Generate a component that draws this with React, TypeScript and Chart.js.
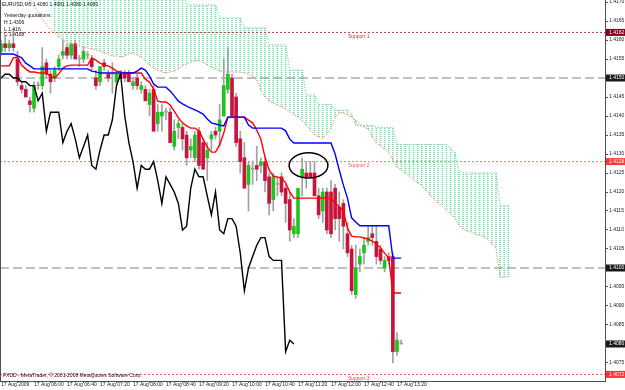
import React, { useEffect, useRef } from "react";
import { Chart, registerables } from "chart.js";
Chart.register(...registerables);

// ---------- text ----------
const symbolName = "EURUSD,M5";
const yesterdayLines = ["Yesterday quotations:", "H 1.4306", "L 1.416", "C 1.4168"];
const copyrightText = "FXDD - MetaTrader, \u00a9 2001-2008 MetaQuotes Software Corp.";

// ---------- axes ----------
const xTickIndex = [0, 8, 16, 24, 32, 40, 48, 56, 64, 72, 80, 88, 96];
const xTickLabels = [
  "17 Aug 2009", "17 Aug 06:00", "17 Aug 06:40", "17 Aug 07:20", "17 Aug 08:00",
  "17 Aug 08:40", "17 Aug 09:20", "17 Aug 10:00", "17 Aug 10:40", "17 Aug 11:20",
  "17 Aug 12:00", "17 Aug 12:40", "17 Aug 13:20",
];
const yTickValues = [
  1.4075, 1.408, 1.4085, 1.409, 1.4095, 1.41, 1.4105, 1.411, 1.4115, 1.412,
  1.4125, 1.413, 1.4135, 1.414, 1.4145, 1.415, 1.4155, 1.416, 1.4165, 1.417,
];

// ---------- candles (M5) ----------
const opens = [
  1.4157, 1.4159, 1.4158, 1.4159, 1.4155, 1.4148, 1.4147, 1.4144, 1.4142, 1.4148,
  1.4148, 1.4154, 1.4151, 1.4150, 1.4153, 1.4156, 1.4158, 1.4156, 1.4159, 1.4155,
  1.4155, 1.4156, 1.4155, 1.4150, 1.4149, 1.4154, 1.4151, 1.4151, 1.4149, 1.4151,
  1.4151, 1.4151, 1.4148, 1.4150, 1.4147, 1.4147, 1.4143, 1.4147, 1.4138, 1.4140,
  1.4141, 1.4141, 1.4132, 1.4137, 1.4137, 1.4135, 1.4131, 1.4129, 1.4136, 1.4133,
  1.4129, 1.4134, 1.4136, 1.4136, 1.4140, 1.4147, 1.4150, 1.4145, 1.4134, 1.4129,
  1.4122, 1.4126, 1.4127, 1.4127, 1.4128, 1.4124, 1.4118, 1.4122, 1.4124, 1.4121,
  1.4118, 1.4109, 1.4109, 1.4124, 1.4125, 1.4125, 1.4125, 1.4119, 1.4115, 1.4120,
  1.4120, 1.4121, 1.4116, 1.4117, 1.4109, 1.4105, 1.4093, 1.4101, 1.4104, 1.4107,
  1.4109, 1.4107, 1.4105, 1.4100, 1.4103, 1.4103, 1.4078, 1.4080,
];
const highs = [
  1.4160, 1.4161, 1.4160, 1.4163, 1.4157, 1.4149, 1.4148, 1.4145, 1.4149, 1.4149,
  1.4158, 1.4155, 1.4152, 1.4153, 1.4156, 1.4160, 1.4159, 1.4159, 1.4160, 1.4156,
  1.4158, 1.4157, 1.4156, 1.4152, 1.4153, 1.4155, 1.4152, 1.4154, 1.4152, 1.4152,
  1.4152, 1.4152, 1.4150, 1.4151, 1.4149, 1.4148, 1.4147, 1.4148, 1.4143, 1.4143,
  1.4142, 1.4142, 1.4139, 1.4139, 1.4138, 1.4136, 1.4134, 1.4136, 1.4137, 1.4134,
  1.4133, 1.4136, 1.4137, 1.4143, 1.4155, 1.4158, 1.4151, 1.4146, 1.4136, 1.4133,
  1.4128, 1.4128, 1.4132, 1.4129, 1.4129, 1.4125, 1.4125, 1.4124, 1.4125, 1.4122,
  1.4120, 1.4113, 1.4121, 1.4129, 1.4128, 1.4128, 1.4128, 1.4121, 1.4121, 1.4121,
  1.4123, 1.4122, 1.4120, 1.4118, 1.4112, 1.4106, 1.4106, 1.4105, 1.4108, 1.4111,
  1.4111, 1.4111, 1.4106, 1.4103, 1.4104, 1.4104, 1.4083, 1.4081,
];
const lows = [
  1.4156, 1.4157, 1.4157, 1.4157, 1.4148, 1.4146, 1.4145, 1.4141, 1.4141, 1.4147,
  1.4147, 1.4150, 1.4146, 1.4149, 1.4152, 1.4155, 1.4155, 1.4155, 1.4155, 1.4153,
  1.4154, 1.4155, 1.4152, 1.4147, 1.4148, 1.4152, 1.4149, 1.4146, 1.4148, 1.4150,
  1.4149, 1.4149, 1.4147, 1.4147, 1.4146, 1.4144, 1.4140, 1.4136, 1.4136, 1.4136,
  1.4139, 1.4133, 1.4131, 1.4134, 1.4131, 1.4127, 1.4129, 1.4128, 1.4126, 1.4126,
  1.4123, 1.4131, 1.4134, 1.4132, 1.4140, 1.4146, 1.4140, 1.4132, 1.4125, 1.4121,
  1.4115, 1.4122, 1.4123, 1.4125, 1.4120, 1.4114, 1.4115, 1.4119, 1.4119, 1.4112,
  1.4107, 1.4108, 1.4108, 1.4119, 1.4121, 1.4124, 1.4119, 1.4113, 1.4112, 1.4109,
  1.4108, 1.4110, 1.4107, 1.4105, 1.4103, 1.4093, 1.4092, 1.4099, 1.4101, 1.4106,
  1.4106, 1.4101, 1.4101, 1.4099, 1.4101, 1.4075, 1.4077, 1.4080,
];
const closes = [
  1.4159, 1.4158, 1.4159, 1.4158, 1.4149, 1.4147, 1.4145, 1.4143, 1.4148, 1.4148,
  1.4153, 1.4151, 1.4149, 1.4152, 1.4155, 1.4157, 1.4156, 1.4159, 1.4155, 1.4155,
  1.4157, 1.4156, 1.4153, 1.4148, 1.4153, 1.4153, 1.4150, 1.4151, 1.4151, 1.4150,
  1.4150, 1.4149, 1.4149, 1.4148, 1.4148, 1.4144, 1.4146, 1.4136, 1.4141, 1.4141,
  1.4141, 1.4133, 1.4136, 1.4138, 1.4134, 1.4129, 1.4132, 1.4135, 1.4127, 1.4126,
  1.4131, 1.4135, 1.4135, 1.4139, 1.4148, 1.4151, 1.4140, 1.4133, 1.4128, 1.4121,
  1.4127, 1.4126, 1.4126, 1.4128, 1.4123, 1.4117, 1.4124, 1.4122, 1.4120, 1.4117,
  1.4110, 1.4111, 1.4121, 1.4126, 1.4124, 1.4124, 1.4119, 1.4114, 1.4120, 1.4110,
  1.4109, 1.4113, 1.4113, 1.4111, 1.4104, 1.4094, 1.4100, 1.4103, 1.4106, 1.4108,
  1.4108, 1.4103, 1.4102, 1.4102, 1.4102, 1.4078, 1.4081, 1.4080,
];

// ---------- Ichimoku lines ----------
const tenkan = [
  1.41532, 1.41532, 1.41532, 1.41553, 1.41555, 1.41534, 1.41524, 1.41516, 1.41516, 1.41514,
  1.41513, 1.41513, 1.41505, 1.41500, 1.41511, 1.41526, 1.41532, 1.41534, 1.41534, 1.41534,
  1.41534, 1.41534, 1.41553, 1.41547, 1.41539, 1.41534, 1.41532, 1.41526, 1.41518, 1.41516,
  1.41513, 1.41513, 1.41513, 1.41513, 1.41513, 1.41497, 1.41489, 1.41471, 1.41439, 1.41437,
  1.41437, 1.41429, 1.41413, 1.41395, 1.41382, 1.41374, 1.41368, 1.41368, 1.41361, 1.41339,
  1.41318, 1.41305, 1.41305, 1.41324, 1.41355, 1.41397, 1.41397, 1.41397, 1.41397, 1.41397,
  1.41389, 1.41382, 1.41363, 1.41339, 1.41292, 1.41258, 1.41242, 1.41239, 1.41237, 1.41224,
  1.41200, 1.41184, 1.41184, 1.41184, 1.41184, 1.41184, 1.41184, 1.41184, 1.41184, 1.41184,
  1.41182, 1.41171, 1.41161, 1.41150, 1.41105, 1.41084, 1.41082, 1.41082, 1.41079, 1.41076,
  1.41071, 1.41063, 1.41053, 1.41039, 1.41026, 1.40934, 1.40934, 1.40934,
];
const kijun = [
  1.41563, 1.41563, 1.41563, 1.41563, 1.41558, 1.41553, 1.41539, 1.41532, 1.41524, 1.41524,
  1.41524, 1.41524, 1.41524, 1.41524, 1.41524, 1.41524, 1.41524, 1.41524, 1.41524, 1.41524,
  1.41524, 1.41524, 1.41518, 1.41516, 1.41513, 1.41513, 1.41513, 1.41513, 1.41513, 1.41513,
  1.41513, 1.41513, 1.41513, 1.41518, 1.41526, 1.41521, 1.41505, 1.41484, 1.41476, 1.41476,
  1.41476, 1.41466, 1.41453, 1.41439, 1.41432, 1.41426, 1.41421, 1.41416, 1.41411, 1.41405,
  1.41392, 1.41382, 1.41379, 1.41376, 1.41374, 1.41397, 1.41397, 1.41397, 1.41397, 1.41397,
  1.41376, 1.41368, 1.41368, 1.41368, 1.41368, 1.41368, 1.41368, 1.41368, 1.41368, 1.41361,
  1.41339, 1.41329, 1.41329, 1.41329, 1.41329, 1.41329, 1.41329, 1.41329, 1.41329, 1.41329,
  1.41329, 1.41300, 1.41258, 1.41218, 1.41184, 1.41132, 1.41121, 1.41111, 1.41111, 1.41111,
  1.41111, 1.41111, 1.41111, 1.41111, 1.41111, 1.41026, 1.41026, 1.41026,
];
// Chikou span, plotted 26 bars back
const chikou = [
  1.4150, 1.4151, 1.4151, 1.4150, 1.4150, 1.4149, 1.4149, 1.4148, 1.4148, 1.4144,
  1.4146, 1.4136, 1.4141, 1.4141, 1.4141, 1.4133, 1.4136, 1.4138, 1.4134, 1.4129,
  1.4132, 1.4135, 1.4127, 1.4126, 1.4131, 1.4135, 1.4135, 1.4139, 1.4148, 1.4151,
  1.4140, 1.4133, 1.4128, 1.4121, 1.4127, 1.4126, 1.4126, 1.4128, 1.4123, 1.4117,
  1.4124, 1.4122, 1.4120, 1.4117, 1.4110, 1.4111, 1.4121, 1.4126, 1.4124, 1.4124,
  1.4119, 1.4114, 1.4120, 1.4110, 1.4109, 1.4113, 1.4113, 1.4111, 1.4104, 1.4094,
  1.4100, 1.4103, 1.4106, 1.4108, 1.4108, 1.4103, 1.4102, 1.4102, 1.4102, 1.4078,
  1.4081, 1.4080,
];
// Senkou span A (already shifted 26 bars forward), bar index 0..123
const spanA = [
  1.41824, 1.41805, 1.41789, 1.41771, 1.41758, 1.41739, 1.41721, 1.41705, 1.41689, 1.41674,
  1.41655, 1.41639, 1.41626, 1.41618, 1.41608, 1.41600, 1.41595, 1.41589, 1.41587, 1.41584,
  1.41582, 1.41579, 1.41576, 1.41574, 1.41571, 1.41566, 1.41563, 1.41558, 1.41558, 1.41555,
  1.41558, 1.41563, 1.41566, 1.41561, 1.41555, 1.41545, 1.41534, 1.41526, 1.41521, 1.41516,
  1.41513, 1.41516, 1.41518, 1.41524, 1.41532, 1.41537, 1.41542, 1.41545, 1.41547, 1.41542,
  1.41534, 1.41529, 1.41524, 1.41518, 1.41516, 1.41516, 1.41516, 1.41516, 1.41516, 1.41513,
  1.41511, 1.41503, 1.41495, 1.41468, 1.41450, 1.41439, 1.41434, 1.41429, 1.41424, 1.41418,
  1.41411, 1.41405, 1.41397, 1.41389, 1.41376, 1.41363, 1.41350, 1.41345, 1.41342, 1.41353,
  1.41368, 1.41397, 1.41408, 1.41408, 1.41403, 1.41397, 1.41389, 1.41376, 1.41371, 1.41366,
  1.41345, 1.41329, 1.41321, 1.41313, 1.41305, 1.41284, 1.41266, 1.41258, 1.41250, 1.41242,
  1.41232, 1.41224, 1.41216, 1.41205, 1.41192, 1.41182, 1.41171, 1.41163, 1.41153, 1.41142,
  1.41132, 1.41113, 1.41103, 1.41097, 1.41095, 1.41089, 1.41087, 1.41082, 1.41076, 1.41063,
  1.41053, 1.40976, 1.40976, 1.40976,
];
// Senkou span B (already shifted), starting at bar index 13
const spanBStart = 13;
const spanB = [
  1.41732, 1.41732, 1.41732, 1.41732, 1.41732, 1.41732, 1.41732, 1.41732, 1.41732, 1.41732,
  1.41732, 1.41732, 1.41732, 1.41732, 1.41732, 1.41732, 1.41732, 1.41732, 1.41732, 1.41732,
  1.41732, 1.41732, 1.41732, 1.41732, 1.41732, 1.41732, 1.41732, 1.41732, 1.41732, 1.41732,
  1.41732, 1.41732, 1.41692, 1.41692, 1.41692, 1.41692, 1.41692, 1.41692, 1.41692, 1.41692,
  1.41658, 1.41658, 1.41658, 1.41658, 1.41658, 1.41658, 1.41632, 1.41632, 1.41632, 1.41632,
  1.41632, 1.41632, 1.41587, 1.41587, 1.41587, 1.41587, 1.41587, 1.41521, 1.41521, 1.41521,
  1.41521, 1.41455, 1.41455, 1.41455, 1.41430, 1.41430, 1.41430, 1.41430, 1.41415, 1.41415,
  1.41415, 1.41415, 1.41405, 1.41375, 1.41375, 1.41375, 1.41375, 1.41375, 1.41370, 1.41370,
  1.41370, 1.41370, 1.41370, 1.41325, 1.41325, 1.41325, 1.41325, 1.41325, 1.41325, 1.41325,
  1.41325, 1.41325, 1.41325, 1.41325, 1.41325, 1.41325, 1.41315, 1.41305, 1.41255, 1.41250,
  1.41250, 1.41250, 1.41250, 1.41250, 1.41250, 1.41250, 1.41250, 1.41250, 1.41165, 1.41165,
  1.41165,
];

// ---------- horizontal objects ----------
const levelPrices = [1.4162, 1.415, 1.4128, 1.41, 1.4072];
const levelNames = ["Support 1", "", "Support 2", "", "Support 3"];
const boxPrices = [1.4162, 1.415, 1.4128, 1.41, 1.408, 1.4072];

// ---------- styling ----------
const FONT = '"Liberation Sans", Arial, sans-serif';
const BULL = "#1cc41c";
const BEAR = "#c8143c";
const WICK = "#a0a0a0";
const HATCH = "#7fcf9f";
const SPAN_A = "#f08878";
const levelColors = ["#b04040", "#808080", "#ff7070", "#808080", "#ff5050"];
const levelDash = [[2, 2], [9, 4], [2, 2], [9, 4], [2, 2]];
const labelColors = ["#c04040", "", "#ff5a5a", "", "#ff4444"];
const boxColors = ["#840022", "#1a1a1a", "#ff3838", "#1a1a1a", "#1a1a1a", "#ff3030"];

const X_MIN = -0.2424;
const X_MAX = 146.424;
const Y_MIN = 1.407026;
const Y_MAX = 1.417053;
const LABEL_BAR = 84.1;

export default function App() {
  const ref = useRef<HTMLCanvasElement | null>(null);

  useEffect(() => {
    document.body.style.margin = "0";
    const canvas = ref.current;
    if (!canvas) return;
    const ctx = canvas.getContext("2d");
    if (!ctx) return;

    const pc = document.createElement("canvas");
    pc.width = 1;
    pc.height = 2;
    const pctx = pc.getContext("2d")!;
    pctx.fillStyle = HATCH;
    pctx.fillRect(0, 0, 1, 1);
    const pattern = ctx.createPattern(pc, "repeat") as CanvasPattern;

    const idx = closes.map((_, i) => i);
    const bodyData = idx.map((i) => ({ x: i, y: [opens[i], closes[i]] }));
    const wickData = idx.map((i) => ({ x: i, y: [lows[i], highs[i]] }));
    const bodyColors = idx.map((i) =>
      closes[i] > opens[i] ? BULL : closes[i] < opens[i] ? BEAR : WICK
    );
    const hatchData = spanB.map((b, j) => ({ x: j + spanBStart, y: [spanA[j + spanBStart], b] }));

    const lineDs = (label: string, data: any[], color: string, width: number, dash: number[] = [], order = 0) => ({
      type: "line" as const,
      label,
      data,
      borderColor: color,
      borderWidth: width,
      borderDash: dash,
      pointRadius: 0,
      tension: 0,
      fill: false,
      order,
    });

    const levelDatasets = levelPrices.map((p, k) =>
      lineDs("level" + k, [{ x: X_MIN, y: p }, { x: X_MAX, y: p }], levelColors[k], 1, levelDash[k], 6)
    );

    const overlay = {
      id: "overlay",
      afterDraw(chart: any) {
        const { ctx: c, chartArea: ca, scales } = chart;
        const xs = scales.x;
        const ys = scales.y;
        c.save();
        c.strokeStyle = "#505050";
        c.lineWidth = 1;
        c.beginPath();
        c.moveTo(ca.left + 0.5, ca.top);
        c.lineTo(ca.left + 0.5, ca.bottom);
        c.stroke();

        c.textBaseline = "middle";
        c.textAlign = "left";
        c.font = "5px " + FONT;
        c.fillStyle = "#101010";
        const last = closes.length - 1;
        const title = `${symbolName} ${opens[last].toFixed(4)} ${highs[last].toFixed(4)} ${lows[last].toFixed(4)} ${closes[last].toFixed(4)}`;
        c.fillText(title, ca.left + 2, ca.top + 5);
        const rowY = [16, 22.7, 29.3, 35];
        yesterdayLines.forEach((t, i) => c.fillText(t, ca.left + 4, ca.top + rowY[i]));
        c.fillText(copyrightText, ca.left + 3, ca.bottom - 5);

        levelPrices.forEach((p, k) => {
          if (!levelNames[k]) return;
          c.fillStyle = labelColors[k];
          c.fillText(levelNames[k], xs.getPixelForValue(LABEL_BAR), ys.getPixelForValue(p) + 4);
        });

        boxPrices.forEach((p, k) => {
          const py = ys.getPixelForValue(p);
          c.fillStyle = boxColors[k];
          c.fillRect(ca.right + 1, py - 3.5, 19, 7);
          c.fillStyle = "#ffffff";
          c.fillText(p.toFixed(4), ca.right + 4, py);
        });

        const cx = xs.getPixelForValue(74.55);
        const cy = ys.getPixelForValue(1.4127);
        const rx = xs.getPixelForValue(74.55 + 4.7) - cx;
        const ry = ys.getPixelForValue(1.4127) - ys.getPixelForValue(1.4127 + 0.00033);
        c.strokeStyle = "#000000";
        c.lineWidth = 1.5;
        c.beginPath();
        c.ellipse(cx, cy, rx, ry, 0, 0, Math.PI * 2);
        c.stroke();
        c.restore();
      },
    };

    const chart = new Chart(ctx, {
      type: "bar",
      data: {
        datasets: [
          {
            type: "bar",
            label: "cloud",
            data: hatchData as any,
            backgroundColor: pattern as any,
            borderWidth: 0,
            barThickness: 1,
            grouped: false,
            order: 8,
          },
          ...levelDatasets,
          {
            type: "bar",
            label: "wicks",
            data: wickData as any,
            backgroundColor: WICK,
            borderWidth: 0,
            barThickness: 1,
            grouped: false,
            order: 4,
          },
          {
            type: "bar",
            label: "bodies",
            data: bodyData as any,
            backgroundColor: bodyColors,
            borderWidth: 0,
            barThickness: 3,
            minBarLength: 1,
            grouped: false,
            order: 3,
          },
          lineDs("spanA", spanA.map((v, k) => ({ x: k, y: v })), SPAN_A, 1, [1.5, 1.5], 2),
          lineDs("spanB", spanB.map((v, j) => ({ x: j + spanBStart, y: v })), HATCH, 1, [1.5, 1.5], 2),
          lineDs("chikou", chikou.map((v, j) => ({ x: j, y: v })), "#000000", 1.4, [], 1),
          lineDs("kijun", kijun.map((v, i) => ({ x: i, y: v })), "#0000ff", 1.4, [], 0),
          lineDs("tenkan", tenkan.map((v, i) => ({ x: i, y: v })), "#ff0000", 1.4, [], 0),
        ] as any,
      },
      options: {
        animation: false,
        responsive: false,
        devicePixelRatio: 1,
        events: [],
        layout: { padding: 0 },
        plugins: { legend: { display: false }, tooltip: { enabled: false }, title: { display: false } },
        scales: {
          x: {
            type: "linear",
            min: X_MIN,
            max: X_MAX,
            offset: false,
            grid: { display: true, drawOnChartArea: false, drawTicks: true, tickLength: 2, color: "#505050" },
            border: { display: true, color: "#505050", width: 1 },
            ticks: {
              autoSkip: false,
              maxRotation: 0,
              minRotation: 0,
              align: "start",
              padding: -1,
              color: "#202020",
              font: { family: FONT, size: 5 },
              callback: (_v: any, i: number) => xTickLabels[i] ?? "",
            },
            afterBuildTicks: (s: any) => {
              s.ticks = xTickIndex.map((v) => ({ value: v }));
            },
            afterFit: (s: any) => {
              s.height = 9;
              s.paddingLeft = 0;
              s.paddingRight = 0;
            },
          } as any,
          y: {
            type: "linear",
            position: "right",
            min: Y_MIN,
            max: Y_MAX,
            grid: { display: true, drawOnChartArea: false, drawTicks: true, tickLength: 3, color: "#505050" },
            border: { display: true, color: "#505050", width: 1 },
            ticks: {
              padding: 1,
              color: "#202020",
              font: { family: FONT, size: 5 },
              callback: (v: any) => Number(v).toFixed(4),
            },
            afterBuildTicks: (s: any) => {
              s.ticks = yTickValues.map((v) => ({ value: v }));
            },
            afterFit: (s: any) => {
              s.width = 20;
              s.paddingTop = 0;
              s.paddingBottom = 0;
            },
          } as any,
        },
      },
      plugins: [overlay],
    });

    return () => chart.destroy();
  }, []);

  return <canvas ref={ref} width={625} height={390} style={{ display: "block" }} />;
}
